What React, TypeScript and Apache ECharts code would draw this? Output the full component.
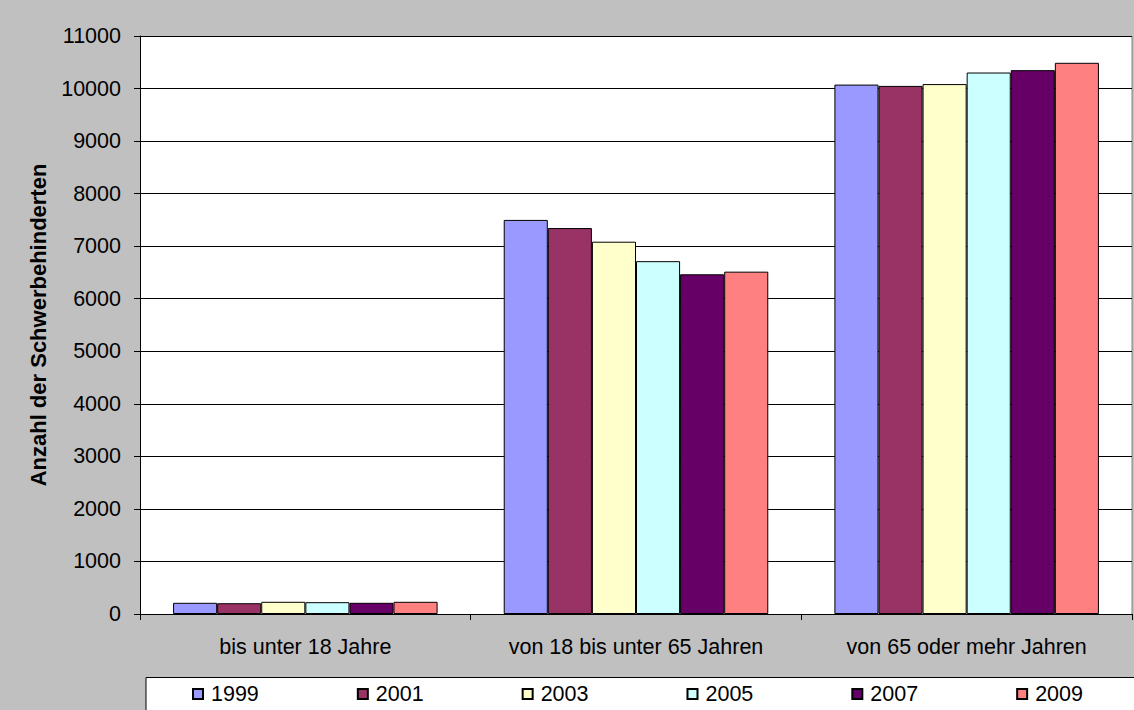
import React, { useEffect, useRef } from "react";
import * as echarts from "echarts";

const categories = ["bis unter 18 Jahre", "von 18 bis unter 65 Jahren", "von 65 oder mehr Jahren"];
const years = ["1999", "2001", "2003", "2005", "2007", "2009"];
const v1999 = [213, 7500, 10075];
const v2001 = [205, 7345, 10050];
const v2003 = [232, 7085, 10085];
const v2005 = [225, 6715, 10305];
const v2007 = [213, 6465, 10350];
const v2009 = [232, 6515, 10490];
const seriesValues = [v1999, v2001, v2003, v2005, v2007, v2009];
const colors = ["#9999FF", "#993366", "#FFFFCC", "#CCFFFF", "#660066", "#FF8080"];

export default function App() {
  const ref = useRef<HTMLDivElement>(null);
  useEffect(() => {
    if (!ref.current) return;
    const chart = echarts.init(ref.current, undefined, { renderer: "svg" });
    const font = "Liberation Sans, Arial, sans-serif";
    const fs = 21.5;
    chart.setOption({
      animation: false,
      backgroundColor: "#C0C0C0",
      textStyle: { fontFamily: font },
      grid: {
        left: 140,
        top: 36,
        right: 2,
        bottom: 96,
        show: true,
        backgroundColor: "#FFFFFF",
        borderWidth: 0,
      },
      graphic: [
        {
          type: "rect",
          shape: { x: 146, y: 677.5, width: 1000, height: 50 },
          style: { fill: "#FFFFFF", stroke: "#000000", lineWidth: 1 },
          z: 0,
        },
        {
          type: "line",
          shape: { x1: 1132, y1: 36, x2: 1132, y2: 614 },
          style: { stroke: "#808080", lineWidth: 1 },
        },
      ],
      legend: {
        data: years,
        left: 187,
        top: 681,
        padding: [2, 5, 2, 5],
        itemWidth: 10,
        itemHeight: 10,
        itemGap: 98,
        icon: "rect",
        textStyle: {
          fontSize: fs,
          lineHeight: 21,
          color: "#000",
          fontFamily: font,
          padding: [0, 0, 0, 3],
        },
        z: 10,
      },
      xAxis: {
        type: "category",
        data: categories,
        axisLine: { show: true, lineStyle: { color: "#000", width: 1 } },
        axisTick: { show: true, inside: false, length: 6, lineStyle: { color: "#000" } },
        axisLabel: { fontSize: fs, color: "#000", margin: 22, fontFamily: font, interval: 0 },
      },
      yAxis: {
        type: "value",
        min: 0,
        max: 11000,
        interval: 1000,
        name: "Anzahl der Schwerbehinderten",
        nameLocation: "middle",
        nameRotate: 90,
        nameGap: 91,
        nameTextStyle: { fontSize: 22, fontWeight: "bold", color: "#000", fontFamily: font },
        axisLine: { show: true, lineStyle: { color: "#000", width: 1 } },
        axisTick: { show: true, length: 6, lineStyle: { color: "#000" } },
        axisLabel: {
          fontSize: fs,
          color: "#000",
          margin: 19,
          fontFamily: font,
          formatter: (v: number) => String(v),
        },
        splitLine: { show: true, lineStyle: { color: "#000", width: 1 } },
      },
      series: years.map((y, i) => ({
        name: y,
        type: "bar",
        data: seriesValues[i],
        barGap: "0%",
        barCategoryGap: "20%",
        itemStyle: { color: colors[i], borderColor: "#000", borderWidth: 1 },
      })),
    });
    return () => chart.dispose();
  }, []);
  return (
    <div
      ref={ref}
      style={{ position: "fixed", left: 0, top: 0, width: 1134, height: 710 }}
    />
  );
}
